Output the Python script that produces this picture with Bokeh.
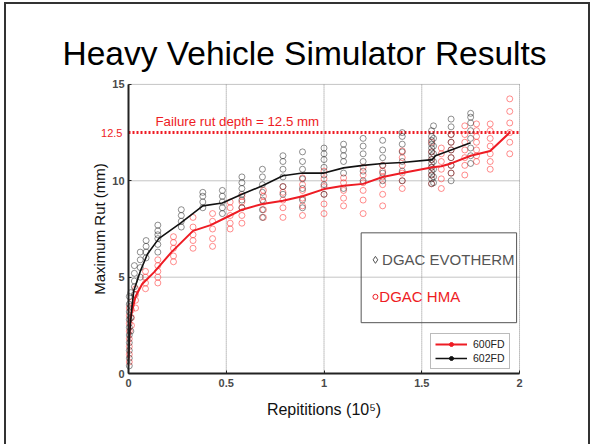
from bokeh.plotting import figure
from bokeh.models import Range1d, FixedTicker, Label, Legend, LegendItem, Title
from bokeh.embed import file_html
from bokeh.resources import INLINE

# ---- data ----
red_line_x = [0, 0.005, 0.01, 0.036, 0.07, 0.13, 0.22, 0.33, 0.42, 0.52, 0.58, 0.685, 0.79, 0.89, 1.0, 1.10, 1.20, 1.30, 1.40, 1.555, 1.60, 1.65, 1.75, 1.85, 1.95]
red_line_y = [0.8, 2.0, 2.9, 4.0, 4.65, 5.25, 6.3, 7.4, 7.7, 8.2, 8.5, 8.8, 8.96, 9.2, 9.57, 9.74, 9.84, 10.2, 10.4, 10.7, 10.75, 10.9, 11.3, 11.55, 12.5]

black_line_x = [0, 0.005, 0.015, 0.027, 0.06, 0.097, 0.155, 0.266, 0.38, 0.48, 0.58, 0.685, 0.79, 0.89, 1.0, 1.10, 1.20, 1.30, 1.40, 1.555, 1.57, 1.65, 1.75]
black_line_y = [0.5, 2.0, 3.2, 4.3, 5.3, 6.2, 7.0, 7.8, 8.7, 8.85, 9.3, 9.74, 10.26, 10.4, 10.4, 10.67, 10.8, 10.9, 10.95, 11.1, 11.3, 11.6, 11.97]

black_cols = [
    (0.004, [0.4, 0.8, 1.2, 1.6, 2.0, 2.4, 2.8, 3.2, 3.6, 4.0]),
    (0.012, [2.2, 2.9, 3.5, 4.2]),
    (0.03, [4.1, 4.5, 4.8, 5.2, 5.6]),
    (0.06, [5.0, 5.5, 5.9, 6.3]),
    (0.09, [6.0, 6.3, 6.6, 6.9]),
    (0.15, [6.3, 6.7, 7.0, 7.2, 7.4, 7.7]),
    (0.27, [7.6, 7.9, 8.2, 8.5]),
    (0.38, [8.6, 8.9, 9.2, 9.4]),
    (0.48, [8.3, 8.6, 8.9, 9.2, 9.5]),
    (0.58, [8.6, 9.0, 9.3, 9.6, 9.9, 10.2]),
    (0.685, [8.1, 8.5, 9.0, 9.4, 9.8, 10.2, 10.6]),
    (0.79, [9.3, 9.7, 10.2, 10.6, 11.0, 11.3]),
    (0.89, [8.6, 9.0, 9.6, 10.1, 10.6, 11.0, 11.5]),
    (1.0, [9.3, 9.8, 10.3, 10.7, 11.1, 11.4, 11.7]),
    (1.10, [9.6, 10.4, 11.0, 11.3, 11.6, 11.9]),
    (1.20, [10.0, 10.5, 11.0, 11.4, 11.8, 12.2]),
    (1.30, [10.0, 10.4, 10.8, 11.2, 11.6, 12.1]),
    (1.40, [10.0, 10.5, 11.0, 11.5, 11.9, 12.3, 12.5]),
    (1.55, [9.85, 10.1, 10.3, 10.5, 10.7, 10.9, 11.1, 11.3, 11.5, 11.7, 11.9, 12.1, 12.3, 12.6]),
    (1.56, [9.9, 10.2, 10.6, 11.0, 11.4, 11.8, 12.2, 12.85]),
    (1.65, [10.0, 10.4, 10.8, 11.2, 11.6, 12.0, 12.4, 12.8, 13.2]),
    (1.75, [10.9, 11.3, 11.7, 12.2, 12.6, 13.0, 13.3, 13.5]),
]

red_cols = [
    (0.004, [0.6, 1.0, 1.4, 1.8, 2.2, 2.6, 3.0, 3.4]),
    (0.015, [2.5, 2.9, 3.3, 3.7]),
    (0.036, [3.4, 3.8, 4.1, 4.4]),
    (0.087, [4.4, 4.7, 5.0, 5.3]),
    (0.15, [4.7, 5.0, 5.3, 5.6, 5.9]),
    (0.23, [5.8, 6.1, 6.5, 6.8, 7.1]),
    (0.33, [6.5, 6.9, 7.2, 7.6, 8.1]),
    (0.43, [6.6, 7.0, 7.5, 7.9, 8.3]),
    (0.52, [7.5, 7.8, 8.2, 8.6, 8.9]),
    (0.58, [7.8, 8.2, 8.6, 8.9, 9.2]),
    (0.69, [8.1, 8.5, 8.9, 9.2, 9.5]),
    (0.79, [8.1, 8.6, 9.0, 9.4, 9.7]),
    (0.89, [8.2, 8.7, 9.1, 9.5, 9.8, 10.15]),
    (1.0, [8.3, 8.8, 9.3, 9.7, 10.1, 10.5]),
    (1.10, [8.7, 9.1, 9.5, 9.9, 10.15]),
    (1.20, [8.3, 9.0, 9.5, 9.9, 10.3, 10.7]),
    (1.30, [8.7, 9.3, 9.8, 10.2, 10.5, 10.8]),
    (1.40, [9.6, 10.0, 10.4, 10.8, 11.2, 11.55]),
    (1.55, [9.85, 10.3, 10.7, 11.1, 11.5, 12.0]),
    (1.60, [9.6, 10.1, 10.6, 11.0, 11.4, 11.7]),
    (1.65, [10.4, 10.8, 11.2, 11.6, 12.0, 12.4]),
    (1.72, [10.3, 10.8, 11.2, 11.6, 12.0, 12.4, 12.85]),
    (1.78, [11.0, 11.3, 11.6, 12.0, 12.3, 12.6, 12.95]),
    (1.85, [10.6, 11.0, 11.4, 11.8, 12.2, 12.6, 12.95]),
    (1.95, [11.4, 12.0, 12.5, 13.0, 13.6, 14.25]),
]

x_ticks = [0, 0.5, 1, 1.5, 2]
y_ticks = [0, 5, 10, 15]
failure_depth = 12.5

title_text = "Heavy Vehicle Simulator Results"
x_label = "Repititions (10\u2075)"
y_label = "Maximum Rut (mm)"

RED = "#ee1c24"
BLACK = "#111111"
GRID = "#8a8a8a"
FONT = "Liberation Sans"

def flatten(cols):
    xs, ys = [], []
    for x, vals in cols:
        for v in vals:
            xs.append(x)
            ys.append(v)
    return xs, ys

bx, by = flatten(black_cols)
rx, ry = flatten(red_cols)
x_lo, x_hi = x_ticks[0], x_ticks[-1]
y_lo, y_hi = y_ticks[0], y_ticks[-1]

# the frame is padded around the data area so that axis texts are not clipped
p = figure(width=594, height=444, output_backend="svg", toolbar_location=None,
           x_range=Range1d(-0.3376, 2.051), y_range=Range1d(-2.694, 15.41),
           min_border_left=62, min_border_right=65, min_border_top=76, min_border_bottom=19)
p.title.visible = False
p.background_fill_color = "white"
p.border_fill_alpha = 0
p.outline_line_color = None
p.xgrid.visible = False
p.ygrid.visible = False

# slide title
p.add_layout(Title(text=title_text, align="left", offset=0, text_font=FONT,
                   text_font_size="33.5px", text_font_style="normal", text_color="black",
                   standoff=10), "above")

# grid lines (dotted), limited to the data area
p.segment(x0=[x_lo] * len(y_ticks), x1=[x_hi] * len(y_ticks), y0=y_ticks, y1=y_ticks,
          line_color=GRID, line_dash="1 1", line_width=1)
p.segment(x0=x_ticks, x1=x_ticks, y0=[y_lo] * len(x_ticks), y1=[y_hi] * len(x_ticks),
          line_color=GRID, line_dash="1 1", line_width=1)

# axes
p.xaxis.ticker = FixedTicker(ticks=x_ticks)
p.yaxis.ticker = FixedTicker(ticks=y_ticks)
p.xaxis.bounds = (x_lo, x_hi)
p.yaxis.bounds = (y_lo, y_hi)
p.xaxis.fixed_location = y_lo
p.yaxis.fixed_location = x_lo
for ax in (p.xaxis, p.yaxis):
    ax.axis_line_color = "#222222"
    ax.axis_line_width = 2
    ax.major_tick_in = 3
    ax.major_tick_out = 0
    ax.minor_tick_line_color = None
    ax.major_tick_line_color = "#222222"
    ax.major_label_text_font = FONT
    ax.major_label_text_font_size = "11px"
    ax.major_label_text_font_style = "bold"
    ax.major_label_text_color = "#4a4a4a"
    ax.axis_label_text_font = FONT
    ax.axis_label_text_font_style = "normal"
    ax.axis_label_text_color = "#111111"
p.yaxis.axis_label_text_font_size = "15px"
p.yaxis.axis_label = y_label
p.xaxis.major_label_standoff = 5
p.yaxis.major_label_standoff = 4
p.yaxis.axis_label_standoff = 1

p.add_layout(Label(x=(x_lo + x_hi) / 2, y=-1.865, text=x_label, text_align="center",
                   text_baseline="middle", text_color="#111111", text_font=FONT,
                   text_font_size="16px"))

# failure line
p.segment(x0=[x_lo], x1=[x_hi], y0=[failure_depth], y1=[failure_depth],
          line_color=RED, line_width=3, line_dash="2 2")
p.add_layout(Label(x=-0.031, y=failure_depth, text="12.5", text_align="right",
                   text_baseline="middle", text_color=RED, text_font=FONT,
                   text_font_size="11px"))
p.add_layout(Label(x=0.138, y=13.1, text="Failure rut depth = 12.5 mm", text_align="left",
                   text_baseline="middle", text_color=RED, text_font=FONT,
                   text_font_size="13.3px"))

# scatter
p.scatter(rx, ry, marker="circle", size=6, fill_color=None, line_color="#ff3030",
          line_alpha=0.55, line_width=1)
p.scatter(bx, by, marker="circle", size=6, fill_color=None, line_color="#222222",
          line_alpha=0.5, line_width=1)

# lines
r_red = p.line(red_line_x, red_line_y, line_color=RED, line_width=2)
r_black = p.line(black_line_x, black_line_y, line_color=BLACK, line_width=1.6)
m_red = p.scatter(red_line_x, red_line_y, marker="circle", size=5, fill_color=RED,
                  line_color=RED, visible=False)
m_black = p.scatter(black_line_x, black_line_y, marker="circle", size=5, fill_color=BLACK,
                    line_color=BLACK, visible=False)

legend = Legend(items=[LegendItem(label="600FD", renderers=[r_red, m_red]),
                       LegendItem(label="602FD", renderers=[r_black, m_black])],
                location=(368, 56))
legend.label_text_font = FONT
legend.label_text_font_size = "10.5px"
legend.label_text_color = "#222222"
legend.glyph_width = 32
legend.glyph_height = 10
legend.label_height = 10
legend.spacing = 2
legend.padding = 4
legend.margin = 0
legend.label_standoff = 6
legend.border_line_color = "#777777"
legend.background_fill_color = "white"
legend.background_fill_alpha = 1
p.add_layout(legend)

# annotation box
box_left, box_right, box_top, box_bottom = 1.19, 1.985, 7.3, 2.64
p.quad(left=[box_left], right=[box_right], top=[box_top], bottom=[box_bottom],
       fill_color=None, line_color="#555555", line_width=1)
p.scatter([1.263], [5.9], marker="diamond", size=7, fill_color=None, line_color="#555555")
p.add_layout(Label(x=1.297, y=5.9, text="DGAC EVOTHERM", text_align="left",
                   text_baseline="middle", text_color="#555555", text_font=FONT,
                   text_font_size="15px"))
p.scatter([1.263], [3.98], marker="circle", size=5, fill_color=None, line_color=RED)
p.add_layout(Label(x=1.283, y=4.0, text="DGAC HMA", text_align="left",
                   text_baseline="middle", text_color=RED, text_font=FONT,
                   text_font_size="15px"))

# slide frame
p.styles = {"box-shadow": "inset 4px 2px 0 0 white, inset -4px 0 0 0 white, "
                          "inset 6px 4px 0 0 #333, inset -6px 0 0 0 #333"}

open("out.html", "w").write(file_html(p, INLINE))
